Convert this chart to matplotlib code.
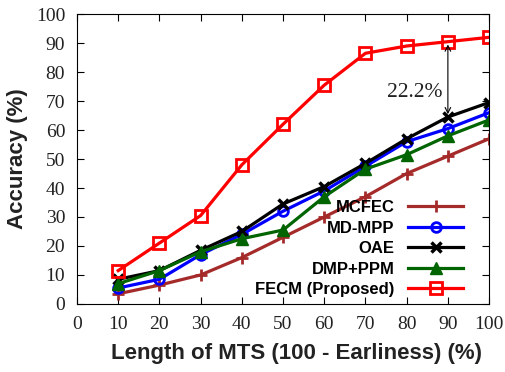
import matplotlib.pyplot as plt

x = [10, 20, 30, 40, 50, 60, 70, 80, 90, 100]
mcfec = [3.5, 6.5, 10, 16, 23, 30, 37, 45, 51, 57]
md_mpp = [5.5, 8.5, 17, 24, 32, 39, 47.5, 56, 60.5, 66]
oae = [8.5, 11.5, 18.5, 25, 34.5, 40.5, 48.5, 57, 64.5, 69.5]
dmp_ppm = [7, 11.5, 18, 22.5, 25.5, 37, 46.5, 51.5, 58, 63.5]
fecm = [11.5, 21, 30.5, 48, 62, 75.5, 86.5, 89, 90.5, 92]

fig = plt.figure(figsize=(5.05, 3.72), dpi=100)
ax = fig.add_axes([0.1525, 0.183, 0.816, 0.779])

ax.plot(x, mcfec, color='#a52a2a', marker='+', markersize=8, mew=2, lw=2.3, label='MCFEC')
ax.plot(x, md_mpp, color='blue', marker='o', markersize=7, mfc='none', mew=2, lw=2.3, label='MD-MPP')
ax.plot(x, oae, color='black', marker='x', markersize=7, mew=2.5, lw=2.3, label='OAE')
ax.plot(x, dmp_ppm, color='#006400', marker='^', markersize=8, lw=2.3, label='DMP+PPM')
ax.plot(x, fecm, color='red', marker='s', markersize=8, mfc='none', mew=2, lw=2.3, label='FECM (Proposed)')

ax.annotate('', xy=(90, 64.5), xytext=(90, 90.5),
            arrowprops=dict(arrowstyle='<->', color='black', lw=0.8))
ax.text(82, 72.8, '22.2%', fontsize=15.5, family='Liberation Serif',
        ha='center', va='center', color='#222222')

ax.set_xlim(0, 100)
ax.set_ylim(0, 100)
ax.set_xticks(range(0, 101, 10))
ax.set_yticks(range(0, 101, 10))
ax.tick_params(direction='in', top=True, right=True, length=5, labelsize=14,
               pad=8.5, labelcolor='#222222')
for lab in ax.get_xticklabels() + ax.get_yticklabels():
    lab.set_family('Liberation Serif')

ax.set_xlabel('Length of MTS (100 - Earliness) (%)', fontsize=16, fontweight='bold',
              family='Liberation Sans', color='#222222')
ax.set_ylabel('Accuracy (%)', fontsize=16, fontweight='bold', family='Liberation Sans',
              color='#222222')
ax.xaxis.set_label_coords(0.532, -0.134)
ax.yaxis.set_label_coords(-0.119, 0.5)

ax.legend(loc='lower right', frameon=False, markerfirst=False,
          prop={'family': 'Liberation Sans', 'weight': 'bold', 'size': 12},
          handlelength=3.3, labelspacing=0.33, borderaxespad=0.0,
          bbox_to_anchor=(0.953, 0.0))

plt.savefig('out.png', dpi=100)
